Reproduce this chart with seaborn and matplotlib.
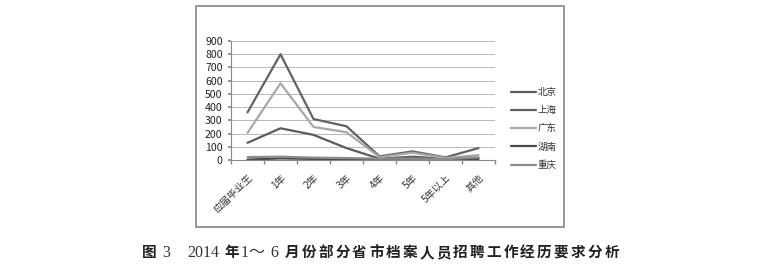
import matplotlib
matplotlib.use("Agg")
import matplotlib.pyplot as plt
import matplotlib.patches as mpatches
from matplotlib.ticker import FixedLocator
import seaborn as sns
import pandas as pd

categories = ["应届毕业生", "1年", "2年", "3年", "4年", "5年", "5年以上", "其他"]
beijing = [130, 240, 190, 90, 10, 25, 8, 15]
shanghai = [360, 800, 310, 255, 28, 65, 20, 90]
guangdong = [205, 580, 250, 210, 22, 55, 15, 37]
hunan = [3, 12, 8, 8, 4, 4, 4, 8]
chongqing = [22, 25, 18, 15, 10, 10, 6, 20]
series_names = ["北京", "上海", "广东", "湖南", "重庆"]
series_values = [beijing, shanghai, guangdong, hunan, chongqing]
y_ticks = [0, 100, 200, 300, 400, 500, 600, 700, 800, 900]
caption_head = [("图", "bold", 142), ("3", "serif", 162), ("2014", "serif", 187),
                ("年", "bold", 224.5), ("1", "serif", 240.5), ("～", "tilde", 248),
                ("6", "serif", 270)]
caption_tail = "月份部分省市档案人员招聘工作经历要求分析"

sns.set_theme(style="white")
plt.rcParams["font.family"] = ["Noto Sans CJK SC", "DejaVu Sans"]

rows = []
for name, vals in zip(series_names, series_values):
    for c, v in zip(categories, vals):
        rows.append({"cat": c, "val": v, "city": name})
df = pd.DataFrame(rows)

palette = {"北京": "#5c5c5c", "上海": "#626262", "广东": "#a8a8a8",
           "湖南": "#4a4a4a", "重庆": "#8c8c8c"}

W, H = 765, 274
fig = plt.figure(figsize=(W / 100, H / 100), dpi=100)
fig.patch.set_facecolor("white")

# outer chart frame
frame = mpatches.Rectangle((196 / W, 1 - 227 / H), 368 / W, 221 / H,
                           transform=fig.transFigure, fill=False,
                           edgecolor="#8f8f8f", linewidth=1.3, zorder=0)
fig.patches.append(frame)

ax = fig.add_axes([231 / W, 1 - 160 / H, 264 / W, 119 / H])
sns.lineplot(data=df, x="cat", y="val", hue="city", hue_order=series_names,
             palette=palette, linewidth=1.6, ax=ax, sort=False, legend=True)

ax.set_xlim(-0.5, len(categories) - 0.5)
ax.set_ylim(0, 900)
ax.set_yticks(y_ticks)
ax.set_yticklabels([str(t) for t in y_ticks], fontsize=7.6, color="#222222")
ax.set_xticks(range(len(categories)))
ax.set_xticklabels(categories, rotation=45, ha="right", rotation_mode="anchor",
                   fontsize=7.2, color="#333333")
ax.xaxis.set_minor_locator(FixedLocator([i - 0.5 for i in range(len(categories) + 1)]))
ax.tick_params(axis="x", which="major", length=0, pad=9)
ax.tick_params(axis="x", which="minor", length=3, color="#888888", direction="out", bottom=True)
ax.tick_params(axis="y", length=2, color="#888888", pad=4, left=True)
ax.grid(axis="y", color="#b8b8b8", linewidth=0.7)
ax.set_axisbelow(True)
for s in ["top", "right"]:
    ax.spines[s].set_visible(False)
for s in ["left", "bottom"]:
    ax.spines[s].set_color("#888888")
    ax.spines[s].set_linewidth(0.8)
ax.set_xlabel("")
ax.set_ylabel("")

leg = ax.legend(loc="center left", bbox_to_anchor=(511 / W, 1 - 129 / H),
                bbox_transform=fig.transFigure, frameon=False, fontsize=6.8,
                handlelength=2.6, handletextpad=0.2, labelspacing=0.95,
                borderaxespad=0, borderpad=0)
for line in leg.get_lines():
    line.set_linewidth(1.6)
for t in leg.get_texts():
    t.set_color("#333333")

# caption
base_y = 1 - 257 / H
for txt, kind, x in caption_head:
    if kind == "bold":
        fig.text(x / W, base_y, txt, ha="left", va="baseline", fontsize=10.5,
                 fontweight="bold", color="#222222")
    elif kind == "tilde":
        fig.text(x / W, base_y, txt, ha="left", va="baseline", fontsize=11.5,
                 color="#333333")
    else:
        fig.text(x / W, base_y, txt, ha="left", va="baseline", fontsize=11.5,
                 family=["Liberation Serif", "Noto Sans CJK SC"], color="#333333")
for i, ch in enumerate(caption_tail):
    fig.text((285 + i * 16.8) / W, base_y, ch, ha="left", va="baseline",
             fontsize=10.5, fontweight="bold", color="#222222")

fig.savefig("out.png", dpi=100, facecolor="white")
